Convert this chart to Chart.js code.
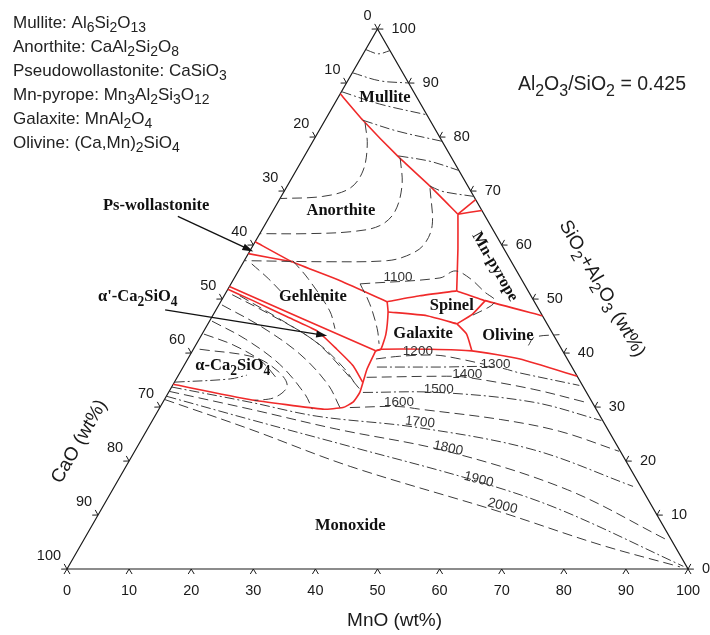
<!DOCTYPE html>
<html lang="en">
<head>
<meta charset="UTF-8">
<title>CaO-MnO-(SiO2+Al2O3) liquidus projection</title>
<script src="https://cdn.jsdelivr.net/npm/chart.js"></script>
<style>
  body { margin: 0; background: #fff; }
  .chart-container { width: 710px; height: 635px; position: relative; }
</style>
</head>
<body>
<div class="chart-container"><canvas id="ternaryChart"></canvas></div>
<script>
// every composition is [MnO, SiO2+Al2O3] in wt%, CaO is the rest
const frameCorners = [[0, 0], [100, 0], [0, 100], [0, 0]];
const tickValues = [0, 10, 20, 30, 40, 50, 60, 70, 80, 90, 100];

// primary phase field boundaries (red)
const mulliteAnorthite = [[0, 88], [6.1, 83.1], [15.1, 76.4], [23.0, 70.9], [30.1, 65.7]];
const mulliteMnPyrope = [[30.1, 65.7], [31.6, 68.4]];
const mulliteEdge = [[30.1, 65.7], [33.6, 66.4]];
const anorthiteMnPyrope = [[30.1, 65.7], [33.3, 59.3], [37.0, 51.5]];
const anorthiteGehlenite = [[0, 60.6], [7.8, 56.9], [17.3, 53.4], [26.8, 49.5]];
const psWollastonite = [[0, 58.4], [7.8, 56.9]];
const gehleniteSpinel = [[26.8, 49.5], [31.5, 50.6], [37.0, 51.5]];
const spinelOlivine = [[37.0, 51.5], [42.5, 49.7], [53.1, 46.9]];
const spinelOlivineLow = [[42.5, 49.7], [41.7, 47.2], [40.1, 45.4]];
const gehleniteGalaxite = [[26.8, 49.5], [27.9, 47.6], [29.6, 43.5], [30.2, 40.7], [29.5, 40.4]];
const spinelGalaxite = [[27.9, 47.6], [34.5, 46.9], [40.1, 45.4]];
const galaxiteOlivine = [[40.1, 45.4], [42.6, 43.5], [45.0, 40.4]];
const olivineMonoxide = [[29.5, 40.4], [30.2, 40.7], [38.1, 40.7], [45.0, 40.4], [53.5, 38.9], [64.3, 35.7]];
const gehleniteAlphaPrime = [[0, 52.3], [29.5, 40.4]];
const alphaPrimeAlpha = [[0, 51.8], [5.1, 49.7], [12.1, 46.7], [18.2, 44.1], [23.1, 40.7], [27.3, 37.6], [30.3, 34.6]];
const alphaMonoxide = [[29.5, 40.4], [29.8, 37.0], [30.8, 32.7], [30.6, 30.9], [29.5, 29.9], [26.4, 29.6], [13.7, 31.4], [0, 34.2]];

// isotherms (grey)
const isoMullite1 = [[0, 96.2], [2.4, 95.4], [4, 96]];
const isoMullite2 = [[0, 91.9], [5.2, 90.4], [10, 90]];
const isoMullite3 = [[0, 88.4], [7.3, 86.1], [15.9, 84.1]];
const isoMullite4 = [[6.1, 83.1], [12.6, 81.1], [20.8, 79.2]];
const isoMullite5 = [[15.1, 76.5], [20.7, 75.5], [26.2, 73.8]];
const isoMullite6 = [[23.0, 70.9], [25.6, 69.9], [31.0, 69.0]];
const isoAnorthite1 = [[6.7, 82.6], [9.1, 78.5], [10.8, 73.7], [10.3, 70.5], [6.7, 69.0], [0, 68.6]];
const isoAnorthite2 = [[15.6, 76.1], [18.4, 71.1], [19.7, 66.2], [18.6, 63.6], [14.8, 62.5], [7.6, 62.1], [0, 62.1]];
const isoAnorthite3 = [[23.2, 70.5], [27.0, 63.6], [27.4, 59.9], [25.7, 58.0], [23.0, 57.1], [13.9, 56.9], [0, 57.1]];
const iso1100 = [[20.8, 52.8], [33.1, 53.9], [34.9, 55.2], [38.0, 53.8], [41.6, 51.3], [44.2, 49.5], [41.5, 46.7]];
const isoGehlenite1 = [[7.8, 57.1], [11.9, 53.8], [18.4, 47.8], [20.9, 44.5]];
const isoGehlenite2 = [[20.8, 52.8], [24.2, 49.1], [27.7, 44.5], [29.4, 41.7]];
const isoGehlenite3 = [[1.5, 56.5], [5.5, 53.8], [9.8, 50.6]];
const isoOlivine = [[53.6, 41.4], [53.8, 42.9], [57.6, 43.4]];
const isoAlphaPrime = [[2.5, 50.6], [10.5, 46.6], [19.5, 41.8], [26.0, 37.2], [29.8, 33.8]];
const isoAlpha1 = [[1.2, 50.8], [9.2, 47.1], [18.8, 42.2], [26.4, 36.6], [30.5, 33.3]];
const isoAlpha2 = [[0.5, 48.9], [9.0, 44.8], [17.6, 39.8], [24.9, 34.2], [29.0, 29.9]];
const isoAlpha3 = [[0.4, 45.9], [7.4, 42.6], [15.3, 37.9], [22.1, 32.4], [24.7, 29.6]];
const isoAlpha6 = [[0.3, 43.5], [6.0, 41.5], [12.0, 38.5], [16.5, 35.0]];
const isoAlpha4 = [[1.0, 40.7], [10.6, 39.2], [15.7, 36.6], [18.5, 33.9], [17.6, 31.8], [14.6, 31.2]];
const isoAlpha5 = [[0, 34.6], [8.7, 35.2], [11.0, 35.9]];
const iso1200 = [[30.3, 38.9], [33.9, 39.4], [39.6, 39.6], [43.8, 38.9], [48.3, 37.9]];
const iso1300 = [[31.2, 37.4], [41.4, 37.4], [50.2, 37.4], [54.8, 36.3], [65.5, 34.0]];
const iso1400 = [[30.5, 35.5], [43.3, 35.7], [46.6, 35.5], [58.4, 33.3], [68.0, 30.9]];
const iso1500 = [[31.3, 32.7], [43.4, 32.7], [59.6, 30.9], [72.3, 27.5]];
const iso1600 = [[30.6, 29.9], [38.2, 30.1], [42.0, 29.6], [55.9, 27.7], [66.6, 25.5], [78.0, 21.8]];
const iso1700 = [[0, 33.7], [14.0, 30.9], [26.1, 28.3], [43.4, 26.2], [64.0, 22.1], [83.5, 15.3]];
const iso1800 = [[0, 32.9], [14.7, 29.6], [30.5, 25.9], [50.3, 21.8], [73.2, 14.7], [93.9, 5.4]];
const iso1900 = [[0, 32.0], [15.6, 27.7], [34.2, 22.7], [58.1, 16.2], [73.9, 11.0], [99.0, 0.5]];
const iso2000 = [[0, 31.4], [16.5, 25.9], [36.1, 19.0], [64.4, 10.6], [83.6, 4.5], [98.5, 0.4]];

const isothermLabels = ['1100', '1200', '1300', '1400', '1500', '1600', '1700', '1800', '1900', '2000'];
const isothermLabelPos = [[26.5, 53.6], [36.5, 40.0], [50.2, 37.6], [46.6, 35.7], [43.4, 32.9], [38.2, 30.5], [43.4, 26.8], [50.3, 22.0], [58.1, 16.2], [64.4, 11.3]];

const phaseNames = ['Mullite', 'Anorthite', 'Gehlenite', 'Spinel', 'Galaxite', 'Olivine', 'Mn-pyrope', 'α-Ca{2}SiO{4}', 'Monoxide'];
const phaseLabelPos = [[7.6, 87.2], [10.9, 66.4], [14.4, 50.4], [37.6, 48.7], [35.6, 43.5], [49.4, 43.2], [40.9, 56.0], [7.9, 37.6], [41.6, 8.0]];

const calloutNames = ['Ps-wollastonite', "α'-Ca{2}SiO{4}"];
const calloutLabelPos = [[-19.3, 67.3], [-13.8, 50.4]];
const calloutFrom = [[-14.8, 65.3], [-8.2, 48.0]];
const calloutTo = [[0.6, 58.8], [20.3, 43.2]];

const phaseKey = [
  'Mullite: Al{6}Si{2}O{13}',
  'Anorthite: CaAl{2}Si{2}O{8}',
  'Pseudowollastonite: CaSiO{3}',
  'Mn-pyrope: Mn{3}Al{2}Si{3}O{12}',
  'Galaxite: MnAl{2}O{4}',
  'Olivine: (Ca,Mn){2}SiO{4}'
];
const ratioNote = 'Al{2}O{3}/SiO{2} = 0.425';

// ---------- drawing ----------
const H = Math.sqrt(3) / 2;
const toXY = t => ({ x: t[0] + t[1] / 2, y: t[1] * H });

const RED = '#f02a2a';
const GREY = '#3c3c3c';
const DASH = [10, 5];
const DASHDOT = [10, 3, 2, 3];
const SANS = '"Liberation Sans", Arial, sans-serif';
const SERIF = '"Liberation Serif", "Times New Roman", serif';

const boundaryLines = [mulliteAnorthite, mulliteMnPyrope, mulliteEdge, anorthiteMnPyrope, anorthiteGehlenite,
  psWollastonite, gehleniteSpinel, spinelOlivine, spinelOlivineLow, gehleniteGalaxite, spinelGalaxite,
  galaxiteOlivine, olivineMonoxide, gehleniteAlphaPrime, alphaPrimeAlpha, alphaMonoxide];

const dashDotLines = [isoMullite1, isoMullite2, isoMullite3, isoMullite4, isoMullite5, isoMullite6,
  isoAlpha5, iso1300, iso1500, iso1700, iso1900];
const dashedLines = [isoAnorthite1, isoAnorthite2, isoAnorthite3, iso1100, isoGehlenite1, isoGehlenite2,
  isoGehlenite3, isoOlivine, isoAlphaPrime, isoAlpha1, isoAlpha2, isoAlpha3, isoAlpha6, isoAlpha4,
  iso1200, iso1400, iso1600, iso1800, iso2000];

const lineSet = (pts, color, width, dash, tension) => ({
  data: pts.map(toXY),
  showLine: true,
  pointRadius: 0,
  borderColor: color,
  borderWidth: width,
  borderDash: dash,
  tension: tension,
  fill: false,
  clip: false
});

const datasets = [
  ...dashDotLines.map(l => lineSet(l, GREY, 1, DASHDOT, 0.35)),
  ...dashedLines.map(l => lineSet(l, GREY, 1, DASH, 0.35)),
  ...boundaryLines.map(l => lineSet(l, RED, 1.6, [], 0.15)),
  lineSet(frameCorners, '#1a1a1a', 1.2, [], 0)
];

// text with {..} parts written as subscripts
function richText(ctx, str, x, y, size, align, family, weight) {
  const parts = str.split(/(\{[^}]*\})/).filter(s => s.length);
  const subSize = size * 0.82;
  const fontOf = (s) => `${weight || ''} ${s}px ${family}`;
  let total = 0;
  const widths = parts.map(p => {
    const sub = p[0] === '{';
    ctx.font = fontOf(sub ? subSize : size);
    const w = ctx.measureText(sub ? p.slice(1, -1) : p).width;
    total += w;
    return w;
  });
  let cx = align === 'center' ? x - total / 2 : align === 'right' ? x - total : x;
  ctx.textAlign = 'left';
  ctx.textBaseline = 'middle';
  parts.forEach((p, i) => {
    const sub = p[0] === '{';
    ctx.font = fontOf(sub ? subSize : size);
    ctx.fillText(sub ? p.slice(1, -1) : p, cx, sub ? y + size * 0.33 : y);
    cx += widths[i];
  });
}

const ternaryDecor = {
  id: 'ternaryDecor',
  afterDatasetsDraw(chart) {
    const ctx = chart.ctx;
    const sx = chart.scales.x, sy = chart.scales.y;
    const P = t => { const q = toXY(t); return { x: sx.getPixelForValue(q.x), y: sy.getPixelForValue(q.y) }; };
    ctx.save();

    // ticks and tick labels on the three sides
    const sides = [
      { at: v => [v, 0], n: [0, 1], d: [1, 0], lab: (p, v) => richText(ctx, String(v), p.x, p.y + 22, 14.5, 'center', SANS) },
      { at: v => [0, 100 - v], n: [-H, -0.5], d: [0.5, -H], lab: (p, v) => richText(ctx, String(v), p.x - 6, p.y - 13, 14.5, 'right', SANS) },
      { at: v => [100 - v, v], n: [H, -0.5], d: [-0.5, -H], lab: (p, v) => richText(ctx, String(v), p.x + 14, p.y, 14.5, 'left', SANS) }
    ];
    ctx.strokeStyle = '#1a1a1a';
    ctx.fillStyle = '#1a1a1a';
    ctx.lineWidth = 1;
    sides.forEach(s => {
      tickValues.forEach(v => {
        const p = P(s.at(v));
        ctx.beginPath();
        ctx.moveTo(p.x + 5 * s.n[0] - 3 * s.d[0], p.y + 5 * s.n[1] - 3 * s.d[1]);
        ctx.lineTo(p.x, p.y);
        ctx.lineTo(p.x + 5 * s.n[0] + 3 * s.d[0], p.y + 5 * s.n[1] + 3 * s.d[1]);
        ctx.stroke();
        s.lab(p, v);
      });
    });

    // axis titles
    const bt = P([57.5, -9.5]);
    richText(ctx, 'MnO (wt%)', bt.x, bt.y, 19, 'center', SANS);
    const lt = P([-9.8, 23.6]);
    ctx.save(); ctx.translate(lt.x, lt.y); ctx.rotate(-Math.PI / 3);
    richText(ctx, 'CaO (wt%)', 0, 0, 19, 'center', SANS);
    ctx.restore();
    const rt = P([60.2, 51.9]);
    ctx.save(); ctx.translate(rt.x, rt.y); ctx.rotate(Math.PI / 3);
    richText(ctx, 'SiO{2}+Al{2}O{3} (wt%)', 0, 0, 19, 'center', SANS);
    ctx.restore();

    // isotherm temperatures
    const labelAngles = [0, 0, 0, 0, 0, 0, 6, 12, 14, 14];
    ctx.fillStyle = '#333';
    isothermLabels.forEach((t, i) => {
      const p = P(isothermLabelPos[i]);
      ctx.save(); ctx.translate(p.x, p.y); ctx.rotate(labelAngles[i] * Math.PI / 180);
      richText(ctx, t, 0, -2, 13.5, 'center', SANS);
      ctx.restore();
    });

    // phase field names
    ctx.fillStyle = '#111';
    phaseNames.forEach((name, i) => {
      const p = P(phaseLabelPos[i]);
      if (name === 'Mn-pyrope') {
        ctx.save(); ctx.translate(p.x, p.y); ctx.rotate(Math.PI / 3);
        richText(ctx, name, 0, 0, 16, 'center', SERIF, 'bold');
        ctx.restore();
      } else {
        richText(ctx, name, p.x, p.y, 16.5, 'center', SERIF, 'bold');
      }
    });

    // callouts with arrows
    calloutNames.forEach((name, i) => {
      const lp = P(calloutLabelPos[i]);
      richText(ctx, name, lp.x, lp.y, 16.5, 'center', SERIF, 'bold');
      const a = P(calloutFrom[i]), b = P(calloutTo[i]);
      const ang = Math.atan2(b.y - a.y, b.x - a.x);
      ctx.strokeStyle = '#111';
      ctx.lineWidth = 1.3;
      ctx.beginPath(); ctx.moveTo(a.x, a.y); ctx.lineTo(b.x - 6 * Math.cos(ang), b.y - 6 * Math.sin(ang)); ctx.stroke();
      ctx.beginPath();
      ctx.moveTo(b.x, b.y);
      ctx.lineTo(b.x - 11 * Math.cos(ang) + 3.5 * Math.sin(ang), b.y - 11 * Math.sin(ang) - 3.5 * Math.cos(ang));
      ctx.lineTo(b.x - 11 * Math.cos(ang) - 3.5 * Math.sin(ang), b.y - 11 * Math.sin(ang) + 3.5 * Math.cos(ang));
      ctx.closePath(); ctx.fill();
    });

    // phase key and ratio note
    ctx.fillStyle = '#222';
    phaseKey.forEach((line, i) => richText(ctx, line, 13, 23 + i * 24, 17, 'left', SANS));
    richText(ctx, ratioNote, chart.width - 24, 85, 19.5, 'right', SANS);

    ctx.restore();
  }
};

new Chart(document.getElementById('ternaryChart'), {
  type: 'scatter',
  data: { datasets },
  options: {
    responsive: true,
    maintainAspectRatio: false,
    animation: false,
    events: [],
    layout: { padding: 0 },
    plugins: { legend: { display: false }, tooltip: { enabled: false } },
    scales: {
      x: { type: 'linear', display: false, min: -10.79, max: 103.54 },
      y: { type: 'linear', display: false, min: -10.58, max: 91.25 }
    }
  },
  plugins: [ternaryDecor]
});
</script>
</body>
</html>
